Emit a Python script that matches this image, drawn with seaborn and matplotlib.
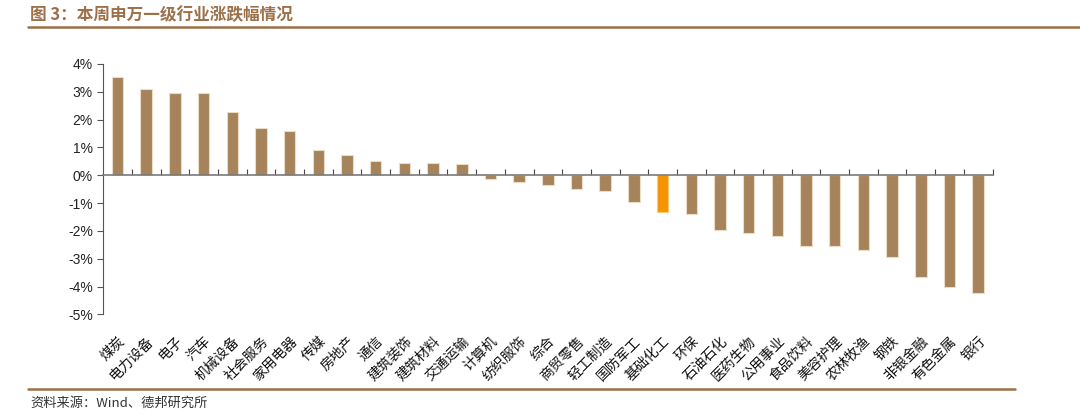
import matplotlib
matplotlib.use("Agg")
import matplotlib.pyplot as plt
import pandas as pd
import seaborn as sns
from matplotlib.ticker import FuncFormatter, FixedLocator

sns.set_theme(style="white")
plt.rcParams["font.family"] = ["Liberation Sans", "Noto Sans CJK SC", "DejaVu Sans"]

industries = ["煤炭", "电力设备", "电子", "汽车", "机械设备", "社会服务", "家用电器", "传媒",
              "房地产", "通信", "建筑装饰", "建筑材料", "交通运输", "计算机", "纺织服饰", "综合",
              "商贸零售", "轻工制造", "国防军工", "基础化工", "环保", "石油石化", "医药生物",
              "公用事业", "食品饮料", "美容护理", "农林牧渔", "钢铁", "非银金融", "有色金属", "银行"]
changes = [3.52, 3.09, 2.97, 2.97, 2.26, 1.70, 1.60, 0.92,
           0.73, 0.51, 0.44, 0.44, 0.40, -0.13, -0.26, -0.36,
           -0.51, -0.57, -0.98, -1.33, -1.41, -1.98, -2.07,
           -2.17, -2.54, -2.54, -2.69, -2.95, -3.66, -4.03, -4.23]
highlight = "基础化工"

BROWN = "#a6835a"
ORANGE = "#f59300"
TITLE_C = "#9c7048"

df = pd.DataFrame({"industry": industries, "change": changes})
palette = {name: (ORANGE if name == highlight else BROWN) for name in industries}

fig = plt.figure(figsize=(10.8, 4.12), dpi=100)
ax = fig.add_axes([0.095, 0.237, 0.824, 0.608])

sns.barplot(data=df, x="industry", y="change", hue="industry", palette=palette,
            legend=False, width=0.4, saturation=1, edgecolor="#eadcc6", linewidth=0.8, ax=ax)

# lighter rim for the highlighted bar so the orange stays bright
for patch, name in zip(ax.patches, industries):
    if name == highlight:
        patch.set_edgecolor("#fbc97a")

ax.set_ylim(-5, 4)
ax.set_xlim(-0.52, len(industries) - 0.5)
ax.set_yticks(range(-5, 5))
ax.yaxis.set_major_formatter(FuncFormatter(lambda v, _: f"{v:.0f}%"))
ax.tick_params(axis="y", direction="out", length=4, width=0.8, color="#555555",
               labelsize=10, labelcolor="#222222", left=True, pad=3)

for side in ["top", "right"]:
    ax.spines[side].set_visible(False)
ax.spines["left"].set_color("#555555")
ax.spines["left"].set_linewidth(0.8)
ax.spines["bottom"].set_position(("data", 0))
ax.spines["bottom"].set_color("#7a7a7a")
ax.spines["bottom"].set_linewidth(1.2)

# boundary ticks on the zero line, pointing up
ax.set_xticks(range(len(industries)))
ax.set_xticklabels([])
ax.xaxis.set_minor_locator(FixedLocator([i + 0.5 for i in range(len(industries))]))
ax.tick_params(axis="x", which="major", length=0)
ax.tick_params(axis="x", which="minor", direction="in", length=4, width=0.8,
               color="#444444", bottom=True)
ax.set_xlabel("")
ax.set_ylabel("")

# category labels at the bottom of the plot
sec = ax.secondary_xaxis(0.0)
sec.set_xticks(range(len(industries)))
sec.set_xticklabels(industries, rotation=45, ha="right", rotation_mode="anchor",
                    family=["Noto Sans CJK SC"], fontsize=10, color="#111111")
sec.tick_params(axis="x", length=0, pad=14)
sec.spines["bottom"].set_visible(False)

# header and footer
fig.text(0.028, 0.963, "图 3：本周申万一级行业涨跌幅情况", fontsize=12, fontweight="bold",
         color=TITLE_C, family=["Noto Sans CJK SC"], va="center", ha="left")
fig.add_artist(plt.Line2D([0.026, 1.0], [0.934, 0.934], color=TITLE_C, linewidth=1.8,
                          transform=fig.transFigure))
fig.add_artist(plt.Line2D([0.026, 0.94], [0.056, 0.056], color=TITLE_C, linewidth=1.8,
                          transform=fig.transFigure))
fig.text(0.028, 0.022, "资料来源：Wind、德邦研究所", fontsize=9.5, color="#333333",
         family=["Noto Sans CJK SC", "Liberation Sans"], va="center", ha="left")

fig.savefig("out.png", dpi=100, facecolor="white")
